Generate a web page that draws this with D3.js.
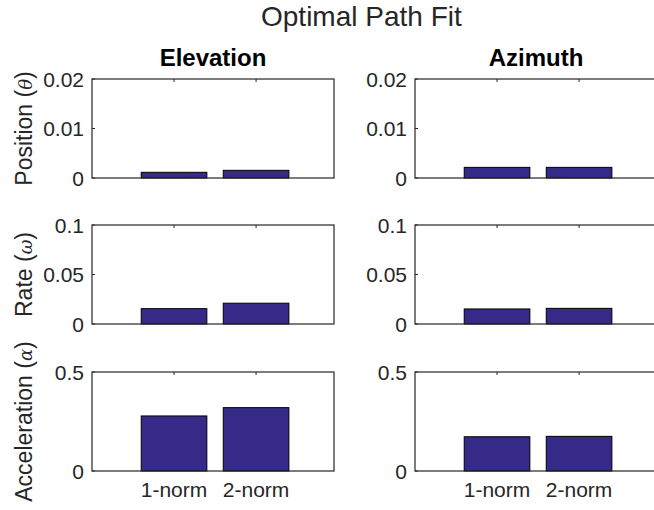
<!DOCTYPE html>
<html>
<head>
<meta charset="utf-8">
<script src="https://cdn.jsdelivr.net/npm/d3@7"></script>
<style>
  html, body { margin: 0; padding: 0; background: #ffffff; }
  svg { display: block; }
  text { font-family: "Liberation Sans", Arial, Helvetica, sans-serif; fill: #262626; }
</style>
</head>
<body>
<script>
// Fit error per norm, for each motion quantity and each axis
const categories = ["1-norm", "2-norm"];
const columns = ["Elevation", "Azimuth"];
const rowLabels = ["Position", "Rate", "Acceleration"];
const rowSymbols = ["\u03B8", "\u03C9", "\u03B1"];

const elevationPosition = [0.00115, 0.00155];
const elevationRate = [0.0155, 0.021];
const elevationAcceleration = [0.278, 0.32];
const azimuthPosition = [0.00215, 0.00215];
const azimuthRate = [0.0152, 0.0158];
const azimuthAcceleration = [0.173, 0.175];

const yMax = [0.02, 0.1, 0.5];
const positionTicks = [0, 0.01, 0.02];
const rateTicks = [0, 0.05, 0.1];
const accelerationTicks = [0, 0.5];
const positionTickLabels = ["0", "0.01", "0.02"];
const rateTickLabels = ["0", "0.05", "0.1"];
const accelerationTickLabels = ["0", "0.5"];

const values = [
  [elevationPosition, azimuthPosition],
  [elevationRate, azimuthRate],
  [elevationAcceleration, azimuthAcceleration]
];
const ticks = [positionTicks, rateTicks, accelerationTicks];
const tickLabels = [positionTickLabels, rateTickLabels, accelerationTickLabels];

const W = 654, H = 510;
const colLeft = [92, 415];
const panelW = 242;
const rowTop = [79, 225, 372];
const panelH = 99;
const barColor = "#352a87";
const axisColor = "#262626";
const fontSize = 21;
const xMax = 2.95;

const svg = d3.select("body").append("svg")
  .attr("width", W).attr("height", H);

// figure title
svg.append("text")
  .attr("x", 261).attr("y", 26)
  .attr("text-anchor", "start")
  .style("font-size", "28px")
  .text("Optimal Path Fit");

// column titles
columns.forEach((name, c) => {
  svg.append("text")
    .attr("x", colLeft[c] + panelW / 2).attr("y", 66)
    .attr("text-anchor", "middle")
    .style("font-size", "24px")
    .style("font-weight", "bold")
    .style("fill", "#000")
    .text(name);
});

rowLabels.forEach((label, r) => {
  for (let c = 0; c < 2; c++) {
    const x = d3.scaleLinear().domain([0, xMax]).range([colLeft[c], colLeft[c] + panelW]);
    const y = d3.scaleLinear().domain([0, yMax[r]]).range([rowTop[r] + panelH, rowTop[r]]);
    const g = svg.append("g");
    const data = categories.map((k, i) => ({ k, i: i + 1, v: values[r][c][i] }));

    // bars
    g.selectAll("rect.bar").data(data).enter().append("rect")
      .attr("class", "bar")
      .attr("x", d => x(d.i - 0.4))
      .attr("width", d => x(d.i + 0.4) - x(d.i - 0.4))
      .attr("y", d => y(d.v))
      .attr("height", d => y(0) - y(d.v))
      .attr("fill", barColor)
      .attr("stroke", "#000")
      .attr("stroke-width", 1);

    // box
    g.append("rect")
      .attr("x", x(0)).attr("y", y(yMax[r]))
      .attr("width", x(xMax) - x(0)).attr("height", y(0) - y(yMax[r]))
      .attr("fill", "none").attr("stroke", axisColor).attr("stroke-width", 1.2);

    // inward ticks
    const tl = 3;
    g.selectAll("line.yt").data(ticks[r]).enter().append("line")
      .attr("x1", x(0)).attr("x2", x(0) + tl)
      .attr("y1", d => y(d)).attr("y2", d => y(d))
      .attr("stroke", axisColor).attr("stroke-width", 1);
    g.selectAll("line.xt").data([1, 2]).enter().append("line")
      .attr("x1", d => x(d)).attr("x2", d => x(d))
      .attr("y1", y(yMax[r])).attr("y2", y(yMax[r]) + tl)
      .attr("stroke", axisColor).attr("stroke-width", 1);

    // y tick labels
    g.selectAll("text.yl").data(ticks[r]).enter().append("text")
      .attr("x", x(0) - 8)
      .attr("y", d => y(d))
      .attr("dy", "0.36em")
      .attr("text-anchor", "end")
      .style("font-size", fontSize + "px")
      .text((d, i) => tickLabels[r][i]);

    // x tick labels on the bottom row
    if (r === 2) {
      g.selectAll("text.xl").data(data).enter().append("text")
        .attr("x", d => x(d.i))
        .attr("y", rowTop[r] + panelH + 26)
        .attr("text-anchor", "middle")
        .style("font-size", fontSize + "px")
        .text(d => d.k);
    }
  }

  // row label with symbol
  const cy = rowTop[r] + panelH / 2;
  const t = svg.append("text")
    .attr("transform", `translate(32,${cy}) rotate(-90)`)
    .attr("text-anchor", "middle")
    .style("font-size", "23px");
  t.append("tspan").text(label + " (");
  t.append("tspan").style("font-family", "'DejaVu Serif', serif").style("font-style", "italic").style("font-size", "18px").text(rowSymbols[r]);
  t.append("tspan").text(")");
});
</script>
</body>
</html>
